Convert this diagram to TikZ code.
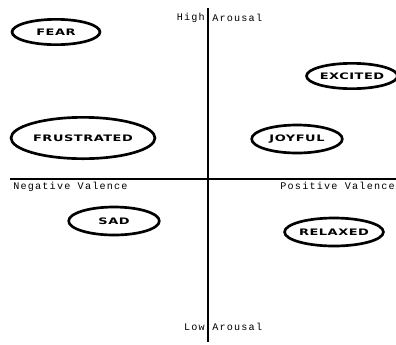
\documentclass[tikz,border=0pt]{standalone}
\usepackage{fontspec}
\usetikzlibrary{shapes.geometric, positioning}
\newfontfamily\pixfont[LetterSpace=12]{Liberation Mono}
\newfontfamily\pixcaps[FakeStretch=1.45, LetterSpace=6]{DejaVu Sans Bold}

\begin{document}
\begin{tikzpicture}[
            x=0.75pt, y=-0.75pt,
            mood/.style={ellipse, draw=black, line width=2pt, inner sep=0pt,
                         font=\pixcaps\fontsize{6.7}{7}\selectfont},
            axislabel/.style={font=\pixfont\fontsize{7.6}{8}\selectfont, inner sep=0pt},
            axisline/.style={draw=black, line width=1.6pt}
          ]
          \useasboundingbox (0,0) rectangle (396,344);

          % axes
          \coordinate (top) at (208,8);
          \coordinate (bottom) at (208,342);
          \coordinate (left) at (10,179);
          \coordinate (right) at (396,179);
          \draw[axisline] (top)--(bottom);
          \draw[axisline] (left)--(right);

          \node[axislabel, anchor=east] (high) at (205,18) {High};
          \node[axislabel, anchor=west] (aroushigh) at (212,18) {Arousal};
          \node[axislabel, anchor=east] (low) at (205,327) {Low};
          \node[axislabel, anchor=west] (arouslow) at (212,327) {Arousal};
          \node[axislabel, anchor=west] (negval) at (13,187) {Negative Valence};
          \node[axislabel, anchor=east] (posval) at (395,186) {Positive Valence};

          % moods
          \node[mood, minimum width=66pt, minimum height=19pt] (fear) at (56,32) {FEAR};
          \node[mood, minimum width=108pt, minimum height=31pt] (frustrated) at (83,138) {FRUSTRATED};
          \node[mood, minimum width=63pt, minimum height=19pt] (excited) at (352,76) {EXCITED};
          \node[mood, minimum width=68pt, minimum height=21pt] (joyful) at (297,139) {JOYFUL};
          \node[mood, minimum width=68pt, minimum height=21pt] (sad) at (114,221) {SAD};
          \node[mood, minimum width=68pt, minimum height=21pt] (relaxed) at (334,232) {RELAXED};
        \end{tikzpicture}
\end{document}
